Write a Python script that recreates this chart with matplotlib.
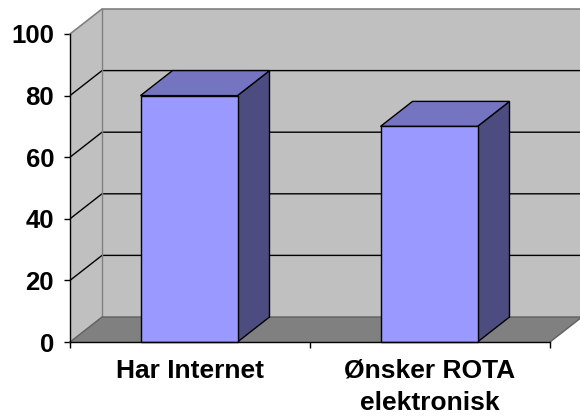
import matplotlib
matplotlib.use("Agg")
import matplotlib.pyplot as plt
from matplotlib.patches import Polygon

categories = ["Har Internet", "Ønsker ROTA\nelektronisk"]
values = [80, 70]
yticks = [0, 20, 40, 60, 80, 100]

W, H = 580, 419
fig = plt.figure(figsize=(W / 100, H / 100), dpi=100)
# front plane of the 3D box
left_px, right_px, bottom_px, top_px = 70, 550, 342, 34
ax = fig.add_axes([left_px / W, 1 - bottom_px / H,
                   (right_px - left_px) / W, (bottom_px - top_px) / H])
ax.set_xlim(-0.5, 1.5)
ax.set_ylim(0, 100)
ax.patch.set_visible(False)

# depth offsets in data units
px_x = 2.0 / (right_px - left_px)
px_y = 100.0 / (bottom_px - top_px)
dx = 32 * px_x
dy = 25 * px_y
bw = 97 * px_x
shift = -1 * px_x

x0, x1 = -0.5, 1.5
ymax = yticks[-1]
wall = "#C0C0C0"
floor = "#808080"
edge_gray = "#808080"

# back wall
ax.add_patch(Polygon([(x0 + dx, dy), (x1 + dx, dy), (x1 + dx, ymax + dy), (x0 + dx, ymax + dy)],
                     closed=True, facecolor=wall, edgecolor="none", clip_on=False, zorder=1))
# side wall
ax.add_patch(Polygon([(x0, 0), (x0 + dx, dy), (x0 + dx, ymax + dy), (x0, ymax)],
                     closed=True, facecolor=wall, edgecolor="none", clip_on=False, zorder=1))
# gridlines
for t in yticks[1:-1]:
    ax.plot([x0, x0 + dx, x1 + dx], [t, t + dy, t + dy], color="black", lw=1.0,
            clip_on=False, zorder=2, solid_capstyle="butt")
# top edges gray
ax.plot([x0, x0 + dx, x1 + dx + 0.05], [ymax, ymax + dy, ymax + dy], color=edge_gray, lw=1.2,
        clip_on=False, zorder=2)
ax.plot([x0 + dx, x0 + dx], [dy, ymax + dy], color=edge_gray, lw=1.0, clip_on=False, zorder=2)
# floor
ax.add_patch(Polygon([(x0, 0), (x1, 0), (x1 + dx, dy), (x0 + dx, dy)],
                     closed=True, facecolor=floor, edgecolor="none", clip_on=False, zorder=2))
ax.plot([x0, x0 + dx, x1 + dx], [0, dy, dy], color="#606060", lw=1.0, clip_on=False, zorder=2)
ax.plot([x1, x1 + dx], [0, dy], color="#606060", lw=1.0, clip_on=False, zorder=2)

front_c = "#9999FF"
top_c = "#7474C0"
side_c = "#4C4C80"
for i, v in enumerate(values):
    a, b = i - bw / 2 + shift, i + bw / 2 + shift
    ax.add_patch(Polygon([(b, 0), (b + dx, dy), (b + dx, v + dy), (b, v)], closed=True,
                         facecolor=side_c, edgecolor="black", lw=1.0, clip_on=False, zorder=4))
    ax.add_patch(Polygon([(a, v), (b, v), (b + dx, v + dy), (a + dx, v + dy)], closed=True,
                         facecolor=top_c, edgecolor="black", lw=1.0, clip_on=False, zorder=4))
    ax.add_patch(Polygon([(a, 0), (b, 0), (b, v), (a, v)], closed=True,
                         facecolor=front_c, edgecolor="black", lw=1.0, clip_on=False, zorder=5))

for s in ["top", "right"]:
    ax.spines[s].set_visible(False)
for s in ["left", "bottom"]:
    ax.spines[s].set_color("black")
    ax.spines[s].set_linewidth(1.0)
    ax.spines[s].set_zorder(6)

yfont = dict(family=["Liberation Sans", "DejaVu Sans"], weight="bold", size=18.5)
xfont = dict(family=["Liberation Sans", "DejaVu Sans"], weight="bold", size=19)
ax.set_yticks(yticks)
ax.set_yticklabels([str(t) for t in yticks], fontdict=yfont)
ax.set_xticks([-0.5, 0.5, 1.5])
ax.set_xticklabels([])
ax.set_xticks([0, 1], minor=True)
ax.set_xticklabels(categories, minor=True, fontdict=xfont, linespacing=1.45)
ax.tick_params(axis="y", direction="out", length=4, width=1, pad=7.5, color="black")
ax.tick_params(axis="x", which="major", direction="out", length=4, width=1, color="black")
ax.tick_params(axis="x", which="minor", length=0, pad=12)

fig.savefig("out.png", dpi=100)
